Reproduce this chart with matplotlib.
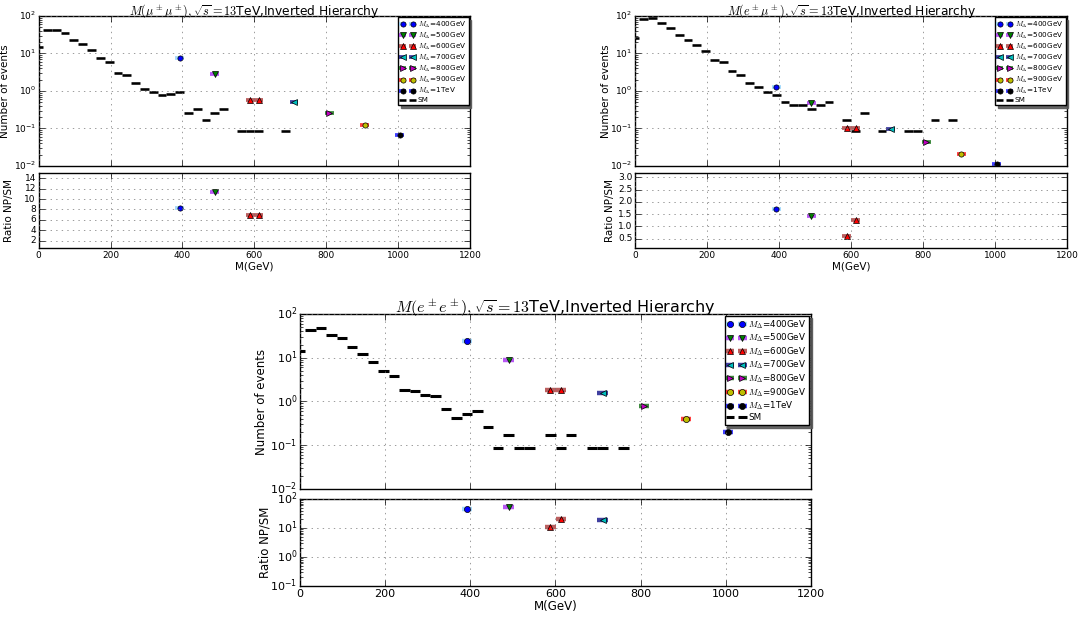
import matplotlib

matplotlib.use("Agg")

import matplotlib.pyplot as plt
import numpy as np
from matplotlib.colors import to_rgba

plt.style.use("classic")
plt.rcParams["figure.facecolor"] = "white"
plt.rcParams["savefig.facecolor"] = "white"
plt.rcParams["mathtext.fontset"] = "cm"
plt.rcParams["font.family"] = ["DejaVu Sans"]

BIN_W = 24.5  # GeV, bins centred on k * BIN_W

# SM background per bin (index k), nan = empty bin
sm_mm = [15, 43, 43, 35, 23, 18, 12.3, 7.5, 5.9, 3.1, 2.7, 1.6, 1.1, 0.92, 0.77,
         0.85, 0.94, 0.255, 0.34, 0.17, 0.255, 0.34, np.nan, 0.085, 0.085, 0.085,
         np.nan, np.nan, 0.085]
sm_em = [26, 81, 87, 65, 49, 32, 22.7, 16.7, 11.8, 6.9, 5.9, 3.4, 2.6, 1.6, 1.28,
         0.92, 0.77, 0.51, 0.42, 0.42, 0.34, 0.42, 0.51, np.nan, 0.17, 0.085, 0.255,
         np.nan, 0.085, np.nan, np.nan, 0.085, 0.085, np.nan, 0.17, np.nan, 0.17]
sm_ee = [14, 43, 49, 33, 27.7, 17.2, 11.9, 7.9, 5.1, 3.8, 1.85, 1.72, 1.4, 1.3, 0.69,
         0.43, 0.52, 0.6, 0.26, 0.085, 0.17, 0.085, 0.085, np.nan, 0.17, 0.085, 0.17,
         np.nan, 0.085, 0.085, np.nan, 0.085]

# signal masses, the bins they fall in, and events per bin
mass_labels = ["400GeV", "500GeV", "600GeV", "700GeV", "800GeV", "900GeV", "1TeV"]
sig_bins = [[16], [20], [24, 25], [29], [33], [37], [41]]
sig_mm = [[7.7], [2.9], [0.59, 0.59], [0.52], [0.26], [0.125], [0.065]]
sig_em = [[1.3], [0.48], [0.10, 0.106], [0.094], [0.043], [0.021], [0.0113]]
sig_ee = [[24], [9.0], [1.79, 1.79], [1.6], [0.77], [0.39], [0.2]]

markers = ["o", "v", "^", "<", ">", "o", "o"]
face_colors = ["b", "g", "r", "c", "m", "y", "k"]
err_colors = ["lightskyblue", "#a020f0", "#a52a2a", "#000080", "#006400", "r", "b"]

titles = [r"$M(\mu^\pm\mu^\pm),\sqrt{s}=13$TeV,Inverted Hierarchy",
          r"$M(e^\pm\mu^\pm),\sqrt{s}=13$TeV,Inverted Hierarchy",
          r"$M(e^\pm e^\pm),\sqrt{s}=13$TeV,Inverted Hierarchy"]


def draw_channel(fig, rect_main, rect_ratio, sm, sig, title, fs, ratio_log, ratio_lim,
                 ratio_ticks, ylab_x):
    ax = fig.add_axes(rect_main)
    axr = fig.add_axes(rect_ratio)
    sm = np.asarray(sm, dtype=float)
    k = np.arange(sm.size)
    ok = ~np.isnan(sm)
    ms = 4.4 * fs["scale"]
    elw = 3.2 * fs["scale"]

    for i in range(len(mass_labels)):
        kb = np.array(sig_bins[i])
        vals = np.array(sig[i], dtype=float)
        ec = to_rgba(err_colors[i], 0.75)
        ax.errorbar(kb * BIN_W, vals, xerr=BIN_W / 2, fmt=markers[i], mfc=face_colors[i],
                    mec="k", ms=ms, ecolor=ec, elinewidth=elw, capsize=0,
                    label=r"$M_\Delta$=" + mass_labels[i])
        # ratio only where SM has entries
        sm_here = np.array([sm[j] if j < sm.size else np.nan for j in kb])
        has = ~np.isnan(sm_here)
        if has.any():
            axr.errorbar(kb[has] * BIN_W, vals[has] / sm_here[has], xerr=BIN_W / 2,
                         fmt=markers[i], mfc=face_colors[i], mec="k", ms=ms,
                         ecolor=ec, elinewidth=elw, capsize=0)

    ax.errorbar(k[ok] * BIN_W, sm[ok], xerr=BIN_W / 2, fmt="none", ecolor="k",
                elinewidth=2.2 * fs["scale"], capsize=0, label="SM")

    ax.set_yscale("log")
    ax.set_ylim(1e-2, 1e2)
    ax.set_xlim(0, 1200)
    ax.set_xticks(np.arange(0, 1201, 200))
    ax.tick_params(labelbottom=False, labelsize=fs["tick"], pad=2)
    ax.grid(True, color="0.45")
    ax.set_ylabel("Number of events", fontsize=fs["label"])
    ax.yaxis.set_label_coords(ylab_x, 0.5)
    ax.set_title(title, fontsize=fs["title"], pad=1)
    ax.legend(loc="upper right", fontsize=fs["legend"], numpoints=2,
              shadow={"color": "0.35", "alpha": 0.9},
              borderpad=0.3, labelspacing=0.12, handlelength=2.0, handletextpad=0.4,
              borderaxespad=0.2)

    if ratio_log:
        axr.set_yscale("log")
    axr.set_ylim(*ratio_lim)
    if ratio_ticks is not None:
        axr.set_yticks(ratio_ticks)
    axr.set_xlim(0, 1200)
    axr.set_xticks(np.arange(0, 1201, 200))
    axr.tick_params(labelsize=fs["tick"], pad=2)
    axr.grid(True, color="0.45")
    axr.set_ylabel("Ratio NP/SM", fontsize=fs["label"])
    axr.yaxis.set_label_coords(ylab_x + 0.008, 0.5)
    axr.set_xlabel("M(GeV)", fontsize=fs["label"], labelpad=1)


fig = plt.figure(figsize=(10.8, 6.2), dpi=100)

small = {"scale": 0.85, "tick": 6.5, "label": 7.5, "title": 8.8, "legend": 5.2}
big = {"scale": 1.0, "tick": 8.0, "label": 8.5, "title": 11.5, "legend": 6.3}

draw_channel(fig, [0.0358, 0.7323, 0.3994, 0.2419], [0.0358, 0.6, 0.3994, 0.121],
             sm_mm, sig_mm, titles[0], small, False, (0.6, 15), np.arange(2, 15, 2),
             -0.066)
draw_channel(fig, [0.588, 0.7323, 0.4, 0.2419], [0.588, 0.6, 0.4, 0.121],
             sm_em, sig_em, titles[1], small, False, (0.115, 3.18),
             np.arange(0.5, 3.01, 0.5), -0.055)
draw_channel(fig, [0.2778, 0.2113, 0.4731, 0.2823], [0.2778, 0.0548, 0.4731, 0.1403],
             sm_ee, sig_ee, titles[2], big, True, (0.1, 100), None, -0.063)

fig.savefig("out.png", dpi=100)
